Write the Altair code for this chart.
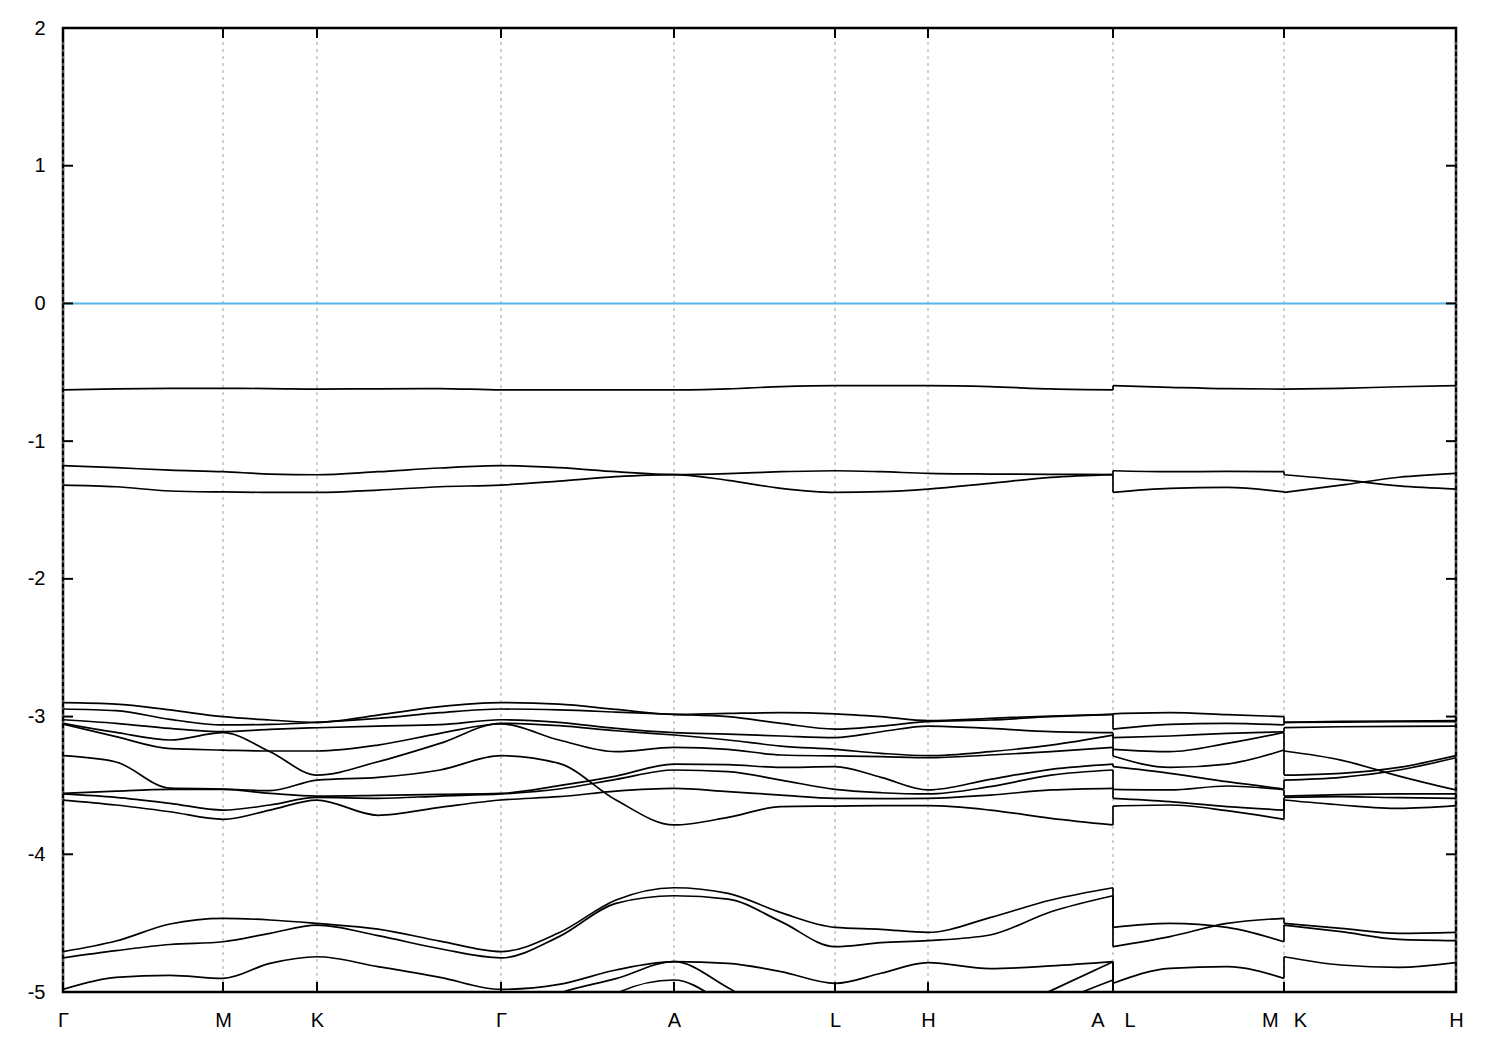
import altair as alt
import pandas as pd

# k-path positions (path length units); duplicated points are the A|L and M|K breaks
K_PATH = [0, 53, 107, 160, 207, 254, 315, 377, 438, 496, 553, 611, 665, 718, 772,
          818, 865, 927, 988, 1050, 1050, 1107, 1164, 1221, 1221, 1278, 1336, 1393]
TICK_POS = [0, 160, 254, 438, 611, 772, 865, 1050, 1221, 1393]
TICK_LABELS = ["Γ", "M", "K", "Γ", "A", "L", "H", "A\u2003L", "M\u2002\u2005K", "H"]
Y_TICKS = [-5, -4, -3, -2, -1, 0, 1, 2]
FERMI = [0.0]

# band energies (eV) at each K_PATH point
T1 = [-0.628, -0.620, -0.617, -0.617, -0.618, -0.622, -0.620, -0.618, -0.628, -0.628, -0.628, -0.628, -0.620, -0.604,
      -0.597, -0.597, -0.597, -0.604, -0.621, -0.628, -0.597, -0.609, -0.619, -0.622, -0.622, -0.617, -0.605, -0.597]
T2 = [-1.178, -1.193, -1.210, -1.222, -1.239, -1.244, -1.222, -1.195, -1.178, -1.193, -1.222, -1.243, -1.236, -1.222,
      -1.215, -1.222, -1.234, -1.239, -1.241, -1.243, -1.215, -1.222, -1.220, -1.222, -1.244, -1.280, -1.325, -1.348]
T3 = [-1.319, -1.331, -1.362, -1.369, -1.372, -1.372, -1.355, -1.331, -1.319, -1.290, -1.258, -1.243, -1.285, -1.343,
      -1.372, -1.367, -1.348, -1.306, -1.263, -1.243, -1.372, -1.343, -1.336, -1.369, -1.372, -1.320, -1.262, -1.234]

D1 = [-2.899, -2.909, -2.952, -3.001, -3.025, -3.042, -2.989, -2.928, -2.899, -2.909, -2.948, -2.984, -2.977, -2.972,
      -2.980, -3.001, -3.030, -3.013, -2.996, -2.984, -2.980, -2.972, -2.986, -3.001, -3.042, -3.035, -3.032, -3.030]
D2 = [-2.945, -2.957, -3.020, -3.061, -3.057, -3.042, -3.013, -2.972, -2.945, -2.952, -2.967, -2.984, -3.001, -3.049,
      -3.091, -3.069, -3.037, -3.025, -3.001, -2.984, -3.091, -3.057, -3.049, -3.061, -3.042, -3.040, -3.037, -3.037]
D3 = [-3.023, -3.049, -3.086, -3.110, -3.093, -3.081, -3.069, -3.059, -3.023, -3.042, -3.086, -3.117, -3.127, -3.141,
      -3.153, -3.110, -3.069, -3.086, -3.110, -3.117, -3.153, -3.141, -3.122, -3.110, -3.081, -3.074, -3.071, -3.069]
D4 = [-3.049, -3.115, -3.170, -3.117, -3.255, -3.425, -3.328, -3.195, -3.049, -3.066, -3.103, -3.134, -3.170, -3.214,
      -3.238, -3.267, -3.284, -3.255, -3.207, -3.134, -3.238, -3.255, -3.195, -3.115, -3.425, -3.412, -3.369, -3.284]
D5 = [-3.054, -3.146, -3.233, -3.243, -3.250, -3.250, -3.207, -3.122, -3.054, -3.170, -3.255, -3.224, -3.238, -3.279,
      -3.286, -3.291, -3.299, -3.279, -3.255, -3.224, -3.286, -3.369, -3.345, -3.243, -3.250, -3.316, -3.432, -3.533]
D6 = [-3.284, -3.330, -3.520, -3.526, -3.538, -3.461, -3.441, -3.388, -3.284, -3.340, -3.606, -3.787, -3.732, -3.654,
      -3.650, -3.647, -3.647, -3.679, -3.739, -3.787, -3.650, -3.642, -3.683, -3.746, -3.461, -3.441, -3.388, -3.299]
D7 = [-3.558, -3.541, -3.529, -3.529, -3.558, -3.577, -3.572, -3.565, -3.558, -3.502, -3.432, -3.345, -3.349, -3.369,
      -3.364, -3.441, -3.533, -3.456, -3.383, -3.345, -3.364, -3.412, -3.473, -3.526, -3.577, -3.567, -3.562, -3.562]
D8 = [-3.562, -3.587, -3.630, -3.679, -3.642, -3.587, -3.594, -3.577, -3.562, -3.526, -3.456, -3.388, -3.400, -3.461,
      -3.529, -3.553, -3.562, -3.509, -3.425, -3.388, -3.529, -3.533, -3.504, -3.531, -3.587, -3.582, -3.589, -3.594]
D9 = [-3.606, -3.642, -3.691, -3.746, -3.679, -3.606, -3.717, -3.659, -3.606, -3.582, -3.541, -3.521, -3.545, -3.570,
      -3.594, -3.596, -3.594, -3.570, -3.533, -3.521, -3.594, -3.618, -3.654, -3.679, -3.606, -3.642, -3.667, -3.647]

L1 = [-4.707, -4.630, -4.506, -4.465, -4.477, -4.502, -4.543, -4.630, -4.707, -4.570, -4.332, -4.243, -4.284, -4.424,
      -4.531, -4.545, -4.567, -4.460, -4.332, -4.243, -4.531, -4.502, -4.531, -4.635, -4.502, -4.538, -4.574, -4.567]
L2 = [-4.752, -4.700, -4.655, -4.635, -4.574, -4.514, -4.591, -4.686, -4.752, -4.598, -4.356, -4.301, -4.325, -4.489,
      -4.671, -4.642, -4.627, -4.586, -4.417, -4.301, -4.671, -4.598, -4.502, -4.465, -4.514, -4.562, -4.618, -4.627]
L3 = [-4.981, -4.894, -4.879, -4.901, -4.792, -4.744, -4.816, -4.894, -4.981, -4.945, -4.840, -4.780, -4.792, -4.852,
      -4.937, -4.864, -4.787, -4.830, -4.811, -4.780, -4.937, -4.828, -4.816, -4.901, -4.744, -4.804, -4.821, -4.787]
L4 = [-5.30, -5.30, -5.30, -5.30, -5.30, -5.30, -5.30, -5.30, -5.20, -5.01, -4.903, -4.780, -4.969, -5.20,
      -5.30, -5.30, -5.30, -5.20, -4.990, -4.780, -5.30, -5.30, -5.30, -5.30, -5.30, -5.30, -5.30, -5.30]
L5 = [-5.40, -5.40, -5.40, -5.40, -5.40, -5.40, -5.40, -5.40, -5.40, -5.30, -5.010, -4.913, -5.100, -5.35,
      -5.40, -5.40, -5.40, -5.35, -5.100, -4.913, -5.40, -5.40, -5.40, -5.40, -5.40, -5.40, -5.40, -5.40]

BANDS = [T1, T2, T3, D1, D2, D3, D4, D5, D6, D7, D8, D9, L1, L2, L3, L4, L5]
BREAKS = [(19, 20), (23, 24)]

rows = []
for b, vals in enumerate(BANDS):
    for i, (k, e) in enumerate(zip(K_PATH, vals)):
        piece = 0 if i <= 19 else (1 if i <= 23 else 2)
        rows.append({"seg": f"{b}-{piece}", "i": i, "k": k, "E": e})
df = pd.DataFrame(rows)

jrows = []
for a, c in BREAKS:
    left = sorted(v[a] for v in BANDS)
    right = sorted(v[c] for v in BANDS)
    for e1, e2 in zip(left, right):
        jrows.append({"k": K_PATH[a], "E": e1, "E2": e2})
jdf = pd.DataFrame(jrows)

xt = pd.DataFrame({"k": TICK_POS})
yt = pd.DataFrame({"E": Y_TICKS})
fd = pd.DataFrame({"E": FERMI})

lab = "''"
for p, t in reversed(list(zip(TICK_POS, TICK_LABELS))):
    lab = f"datum.value == {p} ? '{t}' : ({lab})"

FONT = "Liberation Sans"
X_AXIS = alt.Axis(values=TICK_POS, labelExpr=lab, ticks=False, domain=False, grid=False,
                  labelFontSize=20, labelFont=FONT, labelColor="black", labelPadding=18,
                  labelFlush=False, labelOverlap=False, title=None)
Y_AXIS = alt.Axis(values=Y_TICKS, labelExpr="'' + datum.value", ticks=False, domain=False, grid=False,
                  labelFontSize=20, labelFont=FONT, labelColor="black", labelPadding=18, title=None)
XS = alt.Scale(domain=[0, 1393], nice=False, zero=False)
YS = alt.Scale(domain=[-5, 2], nice=False, zero=False)

W, H = 1393, 964


def xenc():
    return alt.X("k:Q", scale=XS, axis=X_AXIS, title=None)


def yenc():
    return alt.Y("E:Q", scale=YS, axis=Y_AXIS, title=None)


grid = alt.Chart(xt).mark_rule(color="#a0a0a0", strokeDash=[3, 4], strokeWidth=1).encode(x=xenc())
fermi = alt.Chart(fd).mark_rule(color="#56b4e9", strokeWidth=2).encode(y=yenc())
bands = alt.Chart(df).mark_line(interpolate="monotone", color="black", strokeWidth=1.7, clip=True).encode(
    x=xenc(), y=yenc(), detail="seg:N", order=alt.Order("i:Q"))
jumps = alt.Chart(jdf).mark_rule(color="black", strokeWidth=1.7, clip=True).encode(
    x=xenc(), y=yenc(), y2="E2:Q")
ytl = alt.Chart(yt).mark_rule(color="black", strokeWidth=2).encode(
    y=yenc(), x=alt.value(0), x2=alt.value(10))
ytr = alt.Chart(yt).mark_rule(color="black", strokeWidth=2).encode(
    y=yenc(), x=alt.value(W - 10), x2=alt.value(W))
xtb = alt.Chart(xt).mark_rule(color="black", strokeWidth=2).encode(
    x=xenc(), y=alt.value(H - 10), y2=alt.value(H))
xtt = alt.Chart(xt).mark_rule(color="black", strokeWidth=2).encode(
    x=xenc(), y=alt.value(0), y2=alt.value(10))

chart = alt.layer(grid, fermi, bands, jumps, ytl, ytr, xtb, xtt).properties(
    width=W, height=H,
    autosize=alt.AutoSizeParams(type="none"),
    padding={"left": 55, "top": 20, "right": 36, "bottom": 58},
    background="white",
).configure_view(stroke="black", strokeWidth=2.5)

chart.save("out.html", embed_options={"renderer": "svg", "actions": False})
